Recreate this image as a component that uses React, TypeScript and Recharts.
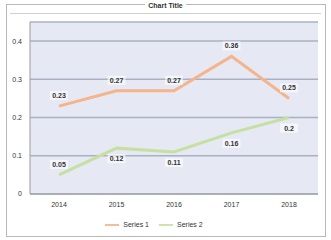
import React from "react";
import { LineChart, Line, XAxis, YAxis, CartesianGrid, Legend, LabelList } from "recharts";

const years = ["2014", "2015", "2016", "2017", "2018"];
const seriesA = [0.23, 0.27, 0.27, 0.36, 0.25];
const seriesB = [0.05, 0.12, 0.11, 0.16, 0.2];
const yTicks = [0, 0.1, 0.2, 0.3, 0.4];

const data = years.map((year, i) => ({ year, a: seriesA[i], b: seriesB[i] }));

const font = "'Liberation Sans', Arial, sans-serif";

// small value tag with a pale box, like the original
function Tag(props: any) {
  const { x, y, value, index, below } = props;
  const down = below && index !== 0;
  const ty = down ? y + 13 : y - 8;
  return (
    <g>
      <rect x={x - 9} y={ty - 7} width={18} height={9} fill="#ffffff" fillOpacity={0.6} />
      <text x={x} y={ty} textAnchor="middle" fontSize={7} fontWeight="bold" fill="#333" fontFamily={font}>
        {value}
      </text>
    </g>
  );
}

export default function App() {
  return (
    <div style={{ position: "absolute", left: 0, top: 0, width: 331, height: 240, background: "#fff", fontFamily: font }}>
      <div style={{ position: "absolute", left: 6, top: 4, width: 318, height: 231, border: "1px solid #b8b8b8" }} />
      <div style={{ position: "absolute", left: 10, top: 13, width: 311, height: 0, borderTop: "1px solid #d0d0d0" }} />
      <div style={{ position: "absolute", left: 0, top: 1, width: 331, textAlign: "center", fontSize: 7, lineHeight: "9px", fontWeight: "bold", color: "#333" }}>
        <span style={{ background: "#fff", padding: "0 3px" }}>Chart Title</span>
      </div>
      <LineChart width={331} height={240} data={data} margin={{ top: 22, right: 13, left: 0, bottom: 8 }}>
        <CartesianGrid vertical={false} stroke="#a9b0c2" strokeWidth={1.5} fill="#e6e9f4" />
        <XAxis
          dataKey="year"
          padding={{ left: 29, right: 29 }}
          axisLine={{ stroke: "#9a9a9a" }}
          tickLine={false}
          tick={{ fontSize: 7, fill: "#333", fontFamily: font }}
          height={24}
        />
        <YAxis
          width={30}
          domain={[0, 0.45]}
          ticks={yTicks}
          axisLine={{ stroke: "#9a9a9a" }}
          tickLine={false}
          tick={{ fontSize: 7, fill: "#333", fontFamily: font }}
        />
        <Legend
          verticalAlign="bottom"
          iconType="plainline"
          iconSize={14}
          formatter={(v: string) => <span style={{ color: "#333" }}>{v}</span>}
          wrapperStyle={{ fontSize: 7, fontFamily: font }}
        />
        <Line
          type="linear"
          dataKey="a"
          name="Series 1"
          stroke="#f4b48c"
          strokeWidth={3}
          dot={false}
          isAnimationActive={false}
        >
          <LabelList dataKey="a" content={(p: any) => <Tag {...p} />} />
        </Line>
        <Line
          type="linear"
          dataKey="b"
          name="Series 2"
          stroke="#c6e0a2"
          strokeWidth={3}
          dot={false}
          isAnimationActive={false}
        >
          <LabelList dataKey="b" content={(p: any) => <Tag {...p} below />} />
        </Line>
      </LineChart>
    </div>
  );
}
